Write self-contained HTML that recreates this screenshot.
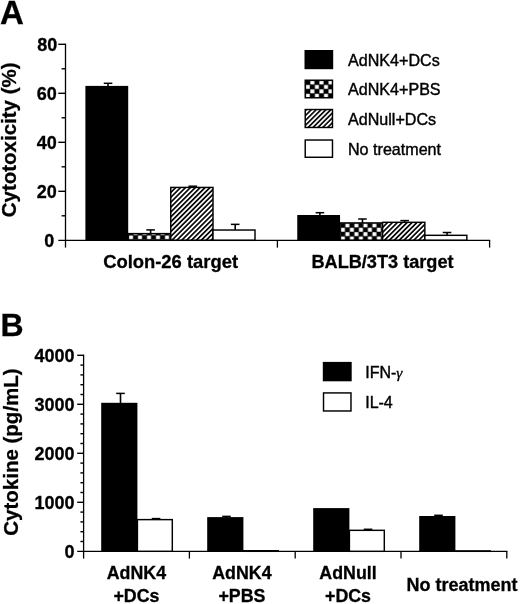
<!DOCTYPE html><html><head><meta charset="utf-8"><style>html,body{margin:0;padding:0;background:#fff;}svg{display:block;will-change:transform;}text{font-family:"Liberation Sans",sans-serif;stroke:#000;stroke-width:0.4px;}text.b{font-weight:bold;stroke-width:0.3px;}</style></head><body>
<svg width="520" height="604" viewBox="0 0 520 604">
<rect width="520" height="604" fill="#fff"/>
<defs><pattern id="chk1" patternUnits="userSpaceOnUse" x="128.75" y="239.6" width="9.0" height="8.7"><rect width="9.0" height="8.7" fill="#000"/><rect x="0.25" y="4.57" width="4.0" height="3.9" fill="#fff"/><rect x="4.75" y="0.22" width="4.0" height="3.9" fill="#fff"/></pattern><pattern id="chk2" patternUnits="userSpaceOnUse" x="340.65" y="240.65" width="9.0" height="8.7"><rect width="9.0" height="8.7" fill="#000"/><rect x="0.25" y="4.57" width="4.0" height="3.9" fill="#fff"/><rect x="4.75" y="0.22" width="4.0" height="3.9" fill="#fff"/></pattern><pattern id="chkL" patternUnits="userSpaceOnUse" x="305.55" y="98.0" width="9.1" height="8.86"><rect width="9.1" height="8.86" fill="#000"/><rect x="0.27" y="4.69" width="4.0" height="3.9" fill="#fff"/><rect x="4.82" y="0.26" width="4.0" height="3.9" fill="#fff"/></pattern><pattern id="h1" patternUnits="userSpaceOnUse" x="176.1" y="189.6" width="3.46" height="3.46" patternTransform="rotate(45 176.1 189.6)"><rect width="3.46" height="3.46" fill="#fff"/><rect x="0.905" width="1.65" height="3.46" fill="#000"/></pattern><pattern id="h2" patternUnits="userSpaceOnUse" x="388.7" y="223.8" width="3.46" height="3.46" patternTransform="rotate(45 388.7 223.8)"><rect width="3.46" height="3.46" fill="#fff"/><rect x="0.905" width="1.65" height="3.46" fill="#000"/></pattern><pattern id="hL" patternUnits="userSpaceOnUse" x="312.2" y="111.2" width="3.45" height="3.45" patternTransform="rotate(45 312.2 111.2)"><rect width="3.45" height="3.45" fill="#fff"/><rect x="0.925" width="1.6" height="3.45" fill="#000"/></pattern></defs>
<line x1="108.05" y1="83.30" x2="108.05" y2="86.90" stroke="#000" stroke-width="1.6"/>
<line x1="103.75" y1="83.30" x2="112.35" y2="83.30" stroke="#000" stroke-width="1.5"/>
<line x1="150.60" y1="229.90" x2="150.60" y2="233.90" stroke="#000" stroke-width="1.6"/>
<line x1="146.30" y1="229.90" x2="154.90" y2="229.90" stroke="#000" stroke-width="1.5"/>
<line x1="192.80" y1="186.20" x2="192.80" y2="187.70" stroke="#000" stroke-width="1.6"/>
<line x1="188.50" y1="186.20" x2="197.10" y2="186.20" stroke="#000" stroke-width="1.5"/>
<line x1="235.20" y1="224.35" x2="235.20" y2="230.30" stroke="#000" stroke-width="1.6"/>
<line x1="230.90" y1="224.35" x2="239.50" y2="224.35" stroke="#000" stroke-width="1.5"/>
<rect x="85.40" y="85.90" width="42.80" height="154.40" fill="#000"/>
<rect x="128.20" y="233.62" width="42.55" height="6.68" fill="url(#chk1)" stroke="#000" stroke-width="1.45"/>
<rect x="170.75" y="187.42" width="42.25" height="52.88" fill="url(#h1)" stroke="#000" stroke-width="1.45"/>
<rect x="213.00" y="230.03" width="42.00" height="10.28" fill="#fff" stroke="#000" stroke-width="1.45"/>
<line x1="319.90" y1="212.70" x2="319.90" y2="216.00" stroke="#000" stroke-width="1.6"/>
<line x1="315.60" y1="212.70" x2="324.20" y2="212.70" stroke="#000" stroke-width="1.5"/>
<line x1="362.45" y1="219.00" x2="362.45" y2="223.20" stroke="#000" stroke-width="1.6"/>
<line x1="358.15" y1="219.00" x2="366.75" y2="219.00" stroke="#000" stroke-width="1.5"/>
<line x1="404.65" y1="220.60" x2="404.65" y2="222.60" stroke="#000" stroke-width="1.6"/>
<line x1="400.35" y1="220.60" x2="408.95" y2="220.60" stroke="#000" stroke-width="1.5"/>
<line x1="447.05" y1="232.50" x2="447.05" y2="235.60" stroke="#000" stroke-width="1.6"/>
<line x1="442.75" y1="232.50" x2="451.35" y2="232.50" stroke="#000" stroke-width="1.5"/>
<rect x="297.25" y="215.00" width="42.80" height="25.30" fill="#000"/>
<rect x="340.05" y="222.92" width="42.55" height="17.38" fill="url(#chk2)" stroke="#000" stroke-width="1.45"/>
<rect x="382.60" y="222.32" width="42.25" height="17.98" fill="url(#h2)" stroke="#000" stroke-width="1.45"/>
<rect x="424.85" y="235.32" width="42.00" height="4.98" fill="#fff" stroke="#000" stroke-width="1.45"/>
<line x1="65.5" y1="43.6" x2="65.5" y2="247.6" stroke="#000" stroke-width="1.3"/>
<line x1="58.3" y1="240.3" x2="490.2" y2="240.3" stroke="#000" stroke-width="1.3"/>
<line x1="58.3" y1="191.30" x2="65.5" y2="191.30" stroke="#000" stroke-width="1.4"/>
<line x1="58.3" y1="142.30" x2="65.5" y2="142.30" stroke="#000" stroke-width="1.4"/>
<line x1="58.3" y1="93.30" x2="65.5" y2="93.30" stroke="#000" stroke-width="1.4"/>
<line x1="58.3" y1="44.30" x2="65.5" y2="44.30" stroke="#000" stroke-width="1.4"/>
<line x1="61.6" y1="215.80" x2="65.5" y2="215.80" stroke="#000" stroke-width="1.4"/>
<line x1="61.6" y1="166.80" x2="65.5" y2="166.80" stroke="#000" stroke-width="1.4"/>
<line x1="61.6" y1="117.80" x2="65.5" y2="117.80" stroke="#000" stroke-width="1.4"/>
<line x1="61.6" y1="68.80" x2="65.5" y2="68.80" stroke="#000" stroke-width="1.4"/>
<line x1="277.4" y1="240.3" x2="277.4" y2="247.6" stroke="#000" stroke-width="1.3"/>
<line x1="489.6" y1="240.3" x2="489.6" y2="247.6" stroke="#000" stroke-width="1.3"/>
<text x="54.2" y="246.50" font-size="18" class="b" text-anchor="end">0</text>
<text x="56.7" y="197.50" font-size="18" class="b" text-anchor="end">20</text>
<text x="56.8" y="148.50" font-size="18" class="b" text-anchor="end">40</text>
<text x="56.8" y="99.50" font-size="18" class="b" text-anchor="end">60</text>
<text x="57.3" y="50.50" font-size="18" class="b" text-anchor="end">80</text>
<text x="0" y="24.2" font-size="33" class="b">A</text>
<text transform="translate(15.6,139.85) rotate(-90)" font-size="20.5" class="b" text-anchor="middle">Cytotoxicity (%)</text>
<text x="170.6" y="268.2" font-size="18.4" class="b" text-anchor="middle">Colon-26 target</text>
<text x="382.5" y="268.2" font-size="18.15" class="b" text-anchor="middle">BALB/3T3 target</text>
<rect x="304.5" y="50.0" width="28.7" height="19.20" fill="#000"/>
<text x="348" y="65.60" font-size="16.1">AdNK4+DCs</text>
<rect x="305.225" y="80.225" width="27.25" height="17.55" fill="url(#chkL)" stroke="#000" stroke-width="1.45"/>
<text x="348" y="95.00" font-size="16.1">AdNK4+PBS</text>
<rect x="305.225" y="109.52499999999999" width="27.25" height="17.95" fill="url(#hL)" stroke="#000" stroke-width="1.45"/>
<text x="348" y="124.50" font-size="16.1">AdNull+DCs</text>
<rect x="305.225" y="140.025" width="27.25" height="17.25" fill="#fff" stroke="#000" stroke-width="1.45"/>
<text x="348" y="154.65" font-size="16.1">No treatment</text>
<text x="0.5" y="335.6" font-size="32" class="b">B</text>
<text transform="translate(17.6,452.05) rotate(-90)" font-size="20.5" class="b" text-anchor="middle">Cytokine (pg/mL)</text>
<line x1="83.6" y1="354.6" x2="83.6" y2="558.6" stroke="#000" stroke-width="1.3"/>
<line x1="77.2" y1="551.3" x2="507.4" y2="551.3" stroke="#000" stroke-width="1.3"/>
<line x1="80.4" y1="541.50" x2="83.6" y2="541.50" stroke="#000" stroke-width="1.4"/>
<line x1="80.4" y1="531.70" x2="83.6" y2="531.70" stroke="#000" stroke-width="1.4"/>
<line x1="80.4" y1="521.90" x2="83.6" y2="521.90" stroke="#000" stroke-width="1.4"/>
<line x1="80.4" y1="512.10" x2="83.6" y2="512.10" stroke="#000" stroke-width="1.4"/>
<line x1="77.2" y1="502.30" x2="83.6" y2="502.30" stroke="#000" stroke-width="1.4"/>
<line x1="80.4" y1="492.50" x2="83.6" y2="492.50" stroke="#000" stroke-width="1.4"/>
<line x1="80.4" y1="482.70" x2="83.6" y2="482.70" stroke="#000" stroke-width="1.4"/>
<line x1="80.4" y1="472.90" x2="83.6" y2="472.90" stroke="#000" stroke-width="1.4"/>
<line x1="80.4" y1="463.10" x2="83.6" y2="463.10" stroke="#000" stroke-width="1.4"/>
<line x1="77.2" y1="453.30" x2="83.6" y2="453.30" stroke="#000" stroke-width="1.4"/>
<line x1="80.4" y1="443.50" x2="83.6" y2="443.50" stroke="#000" stroke-width="1.4"/>
<line x1="80.4" y1="433.70" x2="83.6" y2="433.70" stroke="#000" stroke-width="1.4"/>
<line x1="80.4" y1="423.90" x2="83.6" y2="423.90" stroke="#000" stroke-width="1.4"/>
<line x1="80.4" y1="414.10" x2="83.6" y2="414.10" stroke="#000" stroke-width="1.4"/>
<line x1="77.2" y1="404.30" x2="83.6" y2="404.30" stroke="#000" stroke-width="1.4"/>
<line x1="80.4" y1="394.50" x2="83.6" y2="394.50" stroke="#000" stroke-width="1.4"/>
<line x1="80.4" y1="384.70" x2="83.6" y2="384.70" stroke="#000" stroke-width="1.4"/>
<line x1="80.4" y1="374.90" x2="83.6" y2="374.90" stroke="#000" stroke-width="1.4"/>
<line x1="80.4" y1="365.10" x2="83.6" y2="365.10" stroke="#000" stroke-width="1.4"/>
<line x1="77.2" y1="355.30" x2="83.6" y2="355.30" stroke="#000" stroke-width="1.4"/>
<text x="74.6" y="557.50" font-size="18" class="b" text-anchor="end">0</text>
<text x="74.6" y="508.50" font-size="18" class="b" text-anchor="end">1000</text>
<text x="74.6" y="459.50" font-size="18" class="b" text-anchor="end">2000</text>
<text x="74.6" y="410.50" font-size="18" class="b" text-anchor="end">3000</text>
<text x="74.6" y="361.50" font-size="18" class="b" text-anchor="end">4000</text>
<line x1="189.40" y1="551.3" x2="189.40" y2="558.6" stroke="#000" stroke-width="1.3"/>
<line x1="295.20" y1="551.3" x2="295.20" y2="558.6" stroke="#000" stroke-width="1.3"/>
<line x1="401.00" y1="551.3" x2="401.00" y2="558.6" stroke="#000" stroke-width="1.3"/>
<line x1="506.80" y1="551.3" x2="506.80" y2="558.6" stroke="#000" stroke-width="1.3"/>
<line x1="120.50" y1="393.40" x2="120.50" y2="403.80" stroke="#000" stroke-width="1.6"/>
<line x1="116.20" y1="393.40" x2="124.80" y2="393.40" stroke="#000" stroke-width="1.5"/>
<line x1="156.05" y1="518.60" x2="156.05" y2="519.90" stroke="#000" stroke-width="1.6"/>
<line x1="151.75" y1="518.60" x2="160.35" y2="518.60" stroke="#000" stroke-width="1.5"/>
<rect x="101.20" y="402.80" width="36.20" height="148.50" fill="#000"/>
<rect x="137.40" y="519.62" width="34.90" height="31.67" fill="#fff" stroke="#000" stroke-width="1.45"/>
<line x1="226.50" y1="516.40" x2="226.50" y2="518.10" stroke="#000" stroke-width="1.6"/>
<line x1="222.20" y1="516.40" x2="230.80" y2="516.40" stroke="#000" stroke-width="1.5"/>
<rect x="207.20" y="517.10" width="36.20" height="34.20" fill="#000"/>
<rect x="243.40" y="550.73" width="34.90" height="0.57" fill="#fff" stroke="#000" stroke-width="1.45"/>
<line x1="368.05" y1="529.30" x2="368.05" y2="530.60" stroke="#000" stroke-width="1.6"/>
<line x1="363.75" y1="529.30" x2="372.35" y2="529.30" stroke="#000" stroke-width="1.5"/>
<rect x="313.20" y="508.10" width="36.20" height="43.20" fill="#000"/>
<rect x="349.40" y="530.33" width="34.90" height="20.97" fill="#fff" stroke="#000" stroke-width="1.45"/>
<line x1="438.50" y1="515.30" x2="438.50" y2="517.00" stroke="#000" stroke-width="1.6"/>
<line x1="434.20" y1="515.30" x2="442.80" y2="515.30" stroke="#000" stroke-width="1.5"/>
<rect x="419.20" y="516.00" width="36.20" height="35.30" fill="#000"/>
<rect x="455.40" y="550.93" width="34.90" height="0.37" fill="#fff" stroke="#000" stroke-width="1.45"/>
<rect x="322.8" y="361.9" width="28.9" height="19.4" fill="#000"/>
<rect x="323.52500000000003" y="392.925" width="27.45" height="18.05" fill="#fff" stroke="#000" stroke-width="1.45"/>
<text x="365.2" y="377.7" font-size="16">IFN-<tspan font-family="Liberation Serif" font-style="italic" font-size="15.5" stroke-width="0.3">γ</tspan></text>
<text x="365.2" y="407.6" font-size="16">IL-4</text>
<text x="136.40" y="579.4" font-size="17.8" class="b" text-anchor="middle">AdNK4</text>
<text x="136.40" y="602" font-size="17.8" class="b" text-anchor="middle">+DCs</text>
<text x="241.90" y="579.4" font-size="17.8" class="b" text-anchor="middle">AdNK4</text>
<text x="241.90" y="602" font-size="17.8" class="b" text-anchor="middle">+PBS</text>
<text x="348.00" y="579.4" font-size="17.8" class="b" text-anchor="middle">AdNull</text>
<text x="348.00" y="602" font-size="17.8" class="b" text-anchor="middle">+DCs</text>
<text x="462" y="591" font-size="18" class="b" text-anchor="middle">No treatment</text>
</svg></body></html>
